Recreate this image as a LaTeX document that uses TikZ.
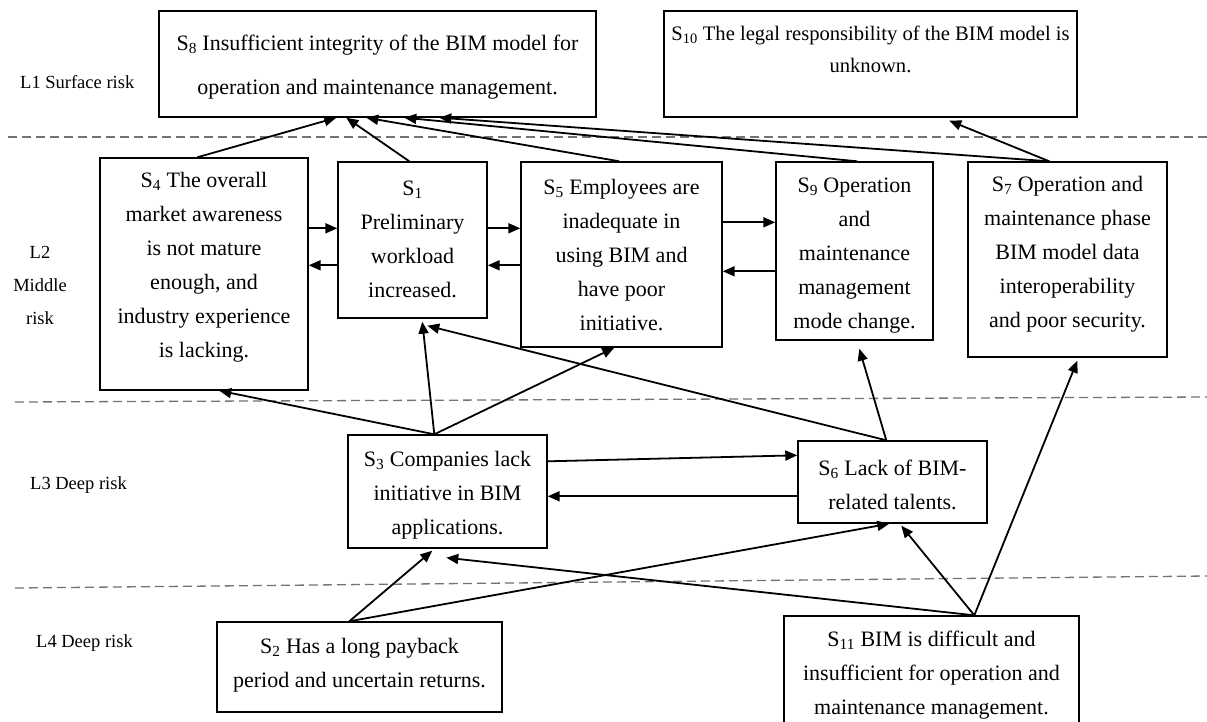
\documentclass[tikz,border=0pt]{standalone}
\usepackage{fontspec}
\setmainfont{Liberation Serif}
\usetikzlibrary{arrows.meta}
\newcommand\riskS[1]{S\textsubscript{#1}}
\begin{document}
\begin{tikzpicture}[x=1pt,y=-1pt,
  box/.style={draw, line width=1.4pt, inner sep=0pt},
  txt/.style={align=center, inner sep=0pt, font=\fontsize{22}{34}\selectfont},
  lab/.style={align=center, inner sep=0pt, font=\fontsize{18.5}{33}\selectfont},
  arr/.style={line width=1.8pt, -{Triangle[length=12pt,width=10pt]}},
  sep/.style={draw=black!55, line width=1.3pt, dash pattern=on 9pt off 5pt}]
\useasboundingbox (0,0) rectangle (1207,721);
\clip (0,0) rectangle (1207,721);
\fill[white] (0,0) rectangle (1207,721);

% level separators
\draw[sep] (8,137) -- (1207,137);
\draw[sep] (15,402) -- (1207,397);
\draw[sep] (15,588) -- (1207,576);

% level labels
\node[lab, anchor=west] (L1) at (20,82) {L1 Surface risk};
\node[lab] (L2) at (40,285) {L2\\Middle\\risk};
\node[lab, anchor=west] (L3) at (30,485) {L3 Deep risk};
\node[lab, anchor=west] (L4) at (36,643) {L4 Deep risk};

% boxes
\node[box, minimum width=437pt, minimum height=106pt] (S8) at (377.5,64) {};
\node[box, minimum width=413pt, minimum height=106pt] (S10) at (870.5,64) {};
\node[box, minimum width=208pt, minimum height=232pt] (S4) at (204,274) {};
\node[box, minimum width=149pt, minimum height=156pt] (S1) at (412.5,240) {};
\node[box, minimum width=201pt, minimum height=185pt] (S5) at (621.5,254.5) {};
\node[box, minimum width=157pt, minimum height=178pt] (S9) at (854.5,251) {};
\node[box, minimum width=199pt, minimum height=195pt] (S7) at (1067.5,259.5) {};
\node[box, minimum width=199pt, minimum height=113pt] (S3) at (447.5,491.5) {};
\node[box, minimum width=189pt, minimum height=82pt] (S6) at (892.5,482) {};
\node[box, minimum width=285pt, minimum height=90pt] (S2) at (359.5,667) {};
\node[box, minimum width=295pt, minimum height=120pt] (S11) at (931.5,676) {};

% texts
\node[txt, font=\fontsize{22}{44}\selectfont] (t8) at (377.5,67) {\riskS{8} Insufficient integrity of the BIM model for\\operation and maintenance management.};
\node[txt, font=\fontsize{20.6}{32}\selectfont] (t10) at (870.5,49) {\riskS{10} The legal responsibility of the BIM model is\\unknown.};
\node[txt] (t4) at (204,267.5) {\riskS{4} The overall\\market awareness\\is not mature\\enough, and\\industry experience\\is lacking.};
\node[txt] (t1) at (412.5,239) {\riskS{1}\\Preliminary\\workload\\increased.};
\node[txt] (t5) at (621.5,255) {\riskS{5} Employees are\\inadequate in\\using BIM and\\have poor\\initiative.};
\node[txt] (t9) at (854.5,255.5) {\riskS{9} Operation\\and\\maintenance\\management\\mode change.};
\node[txt] (t7) at (1067.5,254.5) {\riskS{7} Operation and\\maintenance phase\\BIM model data\\interoperability\\and poor security.};
\node[txt] (t3) at (447.5,495) {\riskS{3} Companies lack\\initiative in BIM\\applications.};
\node[txt] (t6) at (892.5,485) {\riskS{6} Lack of BIM-\\related talents.};
\node[txt] (t2) at (359.5,665) {\riskS{2} Has a long payback\\period and uncertain returns.};
\node[txt] (t11) at (931.5,675) {\riskS{11} BIM is difficult and\\insufficient for operation and\\maintenance management.};

% start points on box edges
\coordinate (s4t) at ([xshift=98pt]S4.north west);
\coordinate (s1t) at ([xshift=72pt]S1.north west);
\coordinate (s5t) at ([xshift=99pt]S5.north west);
\coordinate (s9t) at ([xshift=82pt]S9.north west);
\coordinate (s7t) at ([xshift=82pt]S7.north west);
\coordinate (s3t) at ([xshift=87pt]S3.north west);
\coordinate (s6t) at ([xshift=89pt]S6.north west);
\coordinate (s2t) at ([xshift=133pt]S2.north west);
\coordinate (s11t) at ([xshift=191pt]S11.north west);

% to S8 and S10
\draw[arr] (s4t) -- ([xshift=178pt]S8.south west);
\draw[arr] (s1t) -- ([xshift=188pt]S8.south west);
\draw[arr] (s5t) -- ([xshift=208pt]S8.south west);
\draw[arr] (s9t) -- ([xshift=246pt]S8.south west);
\draw[arr] (s7t) -- ([xshift=281pt]S8.south west);
\draw[arr] (s7t) -- ([xshift=286pt,yshift=-3pt]S10.south west);

% horizontal pairs in L2
\coordinate (p1) at ([yshift=-67pt]S1.north west);
\coordinate (q1) at ([yshift=-104pt]S1.north west);
\draw[arr] (S4.east |- p1) -- (p1);
\draw[arr] (q1) -- (S4.east |- q1);
\coordinate (p5) at ([yshift=-67pt]S5.north west);
\coordinate (q5) at ([yshift=-104pt]S5.north west);
\draw[arr] (S1.east |- p5) -- (p5);
\draw[arr] (q5) -- (S1.east |- q5);
\coordinate (p9) at ([yshift=-61pt]S9.north west);
\coordinate (q9) at ([yshift=-110pt]S9.north west);
\draw[arr] (S5.east |- p9) -- (p9);
\draw[arr] (q9) -- (S5.east |- q9);

% from L3
\draw[arr] (s3t) -- ([xshift=120pt]S4.south west);
\draw[arr] (s3t) -- ([xshift=85pt,yshift=-3pt]S1.south west);
\draw[arr] (s3t) -- ([xshift=94pt]S5.south west);
\draw[arr] (s6t) -- ([xshift=90pt,yshift=-7pt]S1.south west);
\draw[arr] (s6t) -- ([xshift=84pt,yshift=-8pt]S9.south west);
\draw[arr] ([yshift=-27pt]S3.north east) -- ([yshift=-15pt]S6.north west);
\coordinate (r6) at ([yshift=-56pt]S6.north west);
\draw[arr] (r6) -- (S3.east |- r6);

% from L4
\draw[arr] (s2t) -- ([xshift=85pt,yshift=-2pt]S3.south west);
\draw[arr] (s2t) -- ([xshift=92pt]S6.south west);
\draw[arr] (s11t) -- ([xshift=99pt,yshift=-9pt]S3.south west);
\draw[arr] (s11t) -- ([xshift=104pt,yshift=-2pt]S6.south west);
\draw[arr] (s11t) -- ([xshift=110pt,yshift=-3pt]S7.south west);
\end{tikzpicture}
\end{document}
